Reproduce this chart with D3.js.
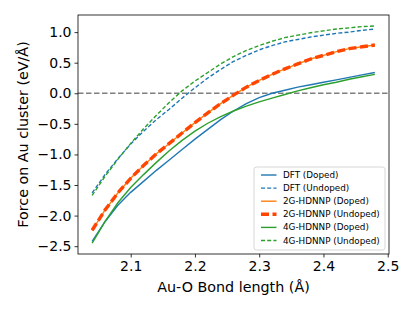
<!DOCTYPE html>
<html>
<head>
<meta charset="utf-8">
<script src="https://cdnjs.cloudflare.com/ajax/libs/d3/7.8.5/d3.min.js"></script>
<style>
  html, body { margin: 0; padding: 0; background: #fff; }
  #chart { width: 415px; height: 311px; }
  text { font-family: "DejaVu Sans", sans-serif; fill: #000; }
</style>
</head>
<body>
<div id="chart"></div>
<script>
// Au-O bond length (Å)
const bondLength = [2.04, 2.06, 2.08, 2.10, 2.12, 2.14, 2.16, 2.18, 2.20, 2.22, 2.24, 2.26,
  2.28, 2.30, 2.32, 2.34, 2.36, 2.38, 2.40, 2.42, 2.44, 2.46, 2.48];

// Force on Au cluster (eV/Å)
const dftDoped = [-2.42, -2.10, -1.83, -1.62, -1.44, -1.26, -1.09, -0.92, -0.75, -0.59, -0.43, -0.29,
  -0.17, -0.07, 0.00, 0.05, 0.10, 0.14, 0.18, 0.22, 0.26, 0.30, 0.34];
const dftUndoped = [-1.63, -1.33, -1.07, -0.83, -0.62, -0.43, -0.26, -0.08, 0.09, 0.25, 0.39, 0.52,
  0.62, 0.71, 0.78, 0.84, 0.88, 0.92, 0.95, 0.98, 1.00, 1.03, 1.05];
const g2Doped = [-2.24, -1.91, -1.63, -1.39, -1.18, -0.99, -0.82, -0.65, -0.48, -0.32, -0.17, -0.03,
  0.10, 0.21, 0.31, 0.40, 0.48, 0.56, 0.62, 0.68, 0.73, 0.76, 0.79];
const g2Undoped = [-2.24, -1.91, -1.63, -1.39, -1.18, -0.99, -0.82, -0.65, -0.48, -0.32, -0.17, -0.03,
  0.10, 0.21, 0.31, 0.40, 0.48, 0.56, 0.62, 0.68, 0.73, 0.76, 0.79];
const g4Doped = [-2.45, -2.10, -1.79, -1.54, -1.33, -1.13, -0.94, -0.77, -0.62, -0.49, -0.38, -0.29,
  -0.21, -0.14, -0.08, -0.02, 0.04, 0.09, 0.14, 0.18, 0.23, 0.27, 0.31];
const g4Undoped = [-1.67, -1.36, -1.08, -0.82, -0.58, -0.36, -0.15, 0.04, 0.20, 0.34, 0.48, 0.60,
  0.70, 0.78, 0.85, 0.91, 0.95, 0.99, 1.02, 1.05, 1.07, 1.09, 1.10];

const xTicks = [2.1, 2.2, 2.3, 2.4, 2.5];
const yTicks = [-2.5, -2.0, -1.5, -1.0, -0.5, 0.0, 0.5, 1.0];

const series = [
  { label: 'DFT (Doped)', values: dftDoped, color: '#1f77b4', width: 1.4, dash: null },
  { label: 'DFT (Undoped)', values: dftUndoped, color: '#1f77b4', width: 1.4, dash: '4,2.2' },
  { label: '2G-HDNNP (Doped)', values: g2Doped, color: '#ff7f0e', width: 1.4, dash: null },
  { label: '2G-HDNNP (Undoped)', values: g2Undoped, color: '#ff4500', width: 3.4, dash: '8,3.5' },
  { label: '4G-HDNNP (Doped)', values: g4Doped, color: '#2ca02c', width: 1.4, dash: null },
  { label: '4G-HDNNP (Undoped)', values: g4Undoped, color: '#2ca02c', width: 1.4, dash: '4,2.2' }
];

const width = 415, height = 311;
const margin = { top: 15, right: 26, bottom: 57, left: 78 };
const innerW = width - margin.left - margin.right;
const innerH = height - margin.top - margin.bottom;

const svg = d3.select('#chart').append('svg')
  .attr('width', width)
  .attr('height', height);

const g = svg.append('g').attr('transform', `translate(${margin.left},${margin.top})`);

const x = d3.scaleLinear().domain([2.018, 2.502]).range([0, innerW]);
const y = d3.scaleLinear().domain([-2.628, 1.28]).range([innerH, 0]);

// zero line
g.append('line')
  .attr('x1', 0).attr('x2', innerW)
  .attr('y1', y(0)).attr('y2', y(0))
  .attr('stroke', '#808080')
  .attr('stroke-width', 1.4)
  .attr('stroke-dasharray', '5.5,2.5');

const line = d3.line()
  .x(d => x(d[0]))
  .y(d => y(d[1]));

series.forEach(s => {
  g.append('path')
    .datum(bondLength.map((b, i) => [b, s.values[i]]))
    .attr('d', line)
    .attr('fill', 'none')
    .attr('stroke', s.color)
    .attr('stroke-width', s.width)
    .attr('stroke-dasharray', s.dash);
});

// axes
const fmt = d3.format('.1f');
const xAxis = g.append('g')
  .attr('transform', `translate(0,${innerH})`)
  .call(d3.axisBottom(x).tickValues(xTicks).tickFormat(fmt).tickSizeOuter(0).tickSize(3.5).tickPadding(4));
const yAxis = g.append('g')
  .call(d3.axisLeft(y).tickValues(yTicks).tickFormat(fmt).tickSizeOuter(0).tickSize(3.5).tickPadding(3));

[xAxis, yAxis].forEach(a => {
  a.select('.domain').remove();
  a.selectAll('.tick line').attr('stroke', '#000').attr('stroke-width', 0.8);
  a.selectAll('.tick text')
    .attr('font-family', '"DejaVu Sans", sans-serif')
    .attr('font-size', 14)
    .attr('fill', '#000');
});

// frame
g.append('rect')
  .attr('width', innerW).attr('height', innerH)
  .attr('fill', 'none')
  .attr('stroke', '#000')
  .attr('stroke-width', 0.8);

// axis labels
svg.append('text')
  .attr('x', margin.left + innerW / 2)
  .attr('y', 292)
  .attr('text-anchor', 'middle')
  .attr('font-size', 14.3)
  .text('Au-O Bond length (Å)');

svg.append('text')
  .attr('transform', `translate(28,${margin.top + innerH / 2}) rotate(-90)`)
  .attr('text-anchor', 'middle')
  .attr('font-size', 14.3)
  .text('Force on Au cluster (eV/Å)');

// legend
const legend = g.append('g').attr('transform', `translate(${254 - margin.left},${167 - margin.top})`);
legend.append('rect')
  .attr('width', 131).attr('height', 83)
  .attr('rx', 2.5)
  .attr('fill', '#fff').attr('fill-opacity', 0.8)
  .attr('stroke', '#cccccc').attr('stroke-width', 0.8);

series.forEach((s, i) => {
  const ry = 8 + i * 13.1;
  legend.append('line')
    .attr('x1', 7).attr('x2', 22.5)
    .attr('y1', ry).attr('y2', ry)
    .attr('stroke', s.color)
    .attr('stroke-width', s.width)
    .attr('stroke-dasharray', s.dash);
  legend.append('text')
    .attr('x', 29).attr('y', ry)
    .attr('dy', '0.35em')
    .attr('font-size', 8.8)
    .text(s.label);
});
</script>
</body>
</html>
